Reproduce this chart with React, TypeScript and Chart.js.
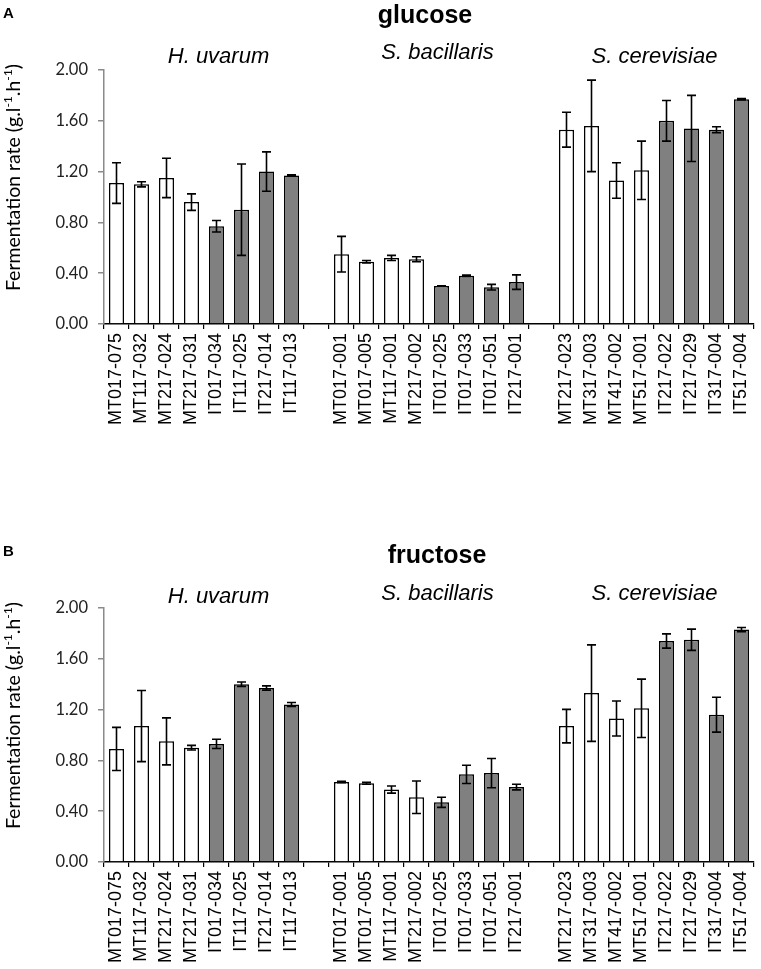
import React, { useEffect, useRef } from "react";
import { Chart, registerables } from "chart.js";

Chart.register(...registerables);

// ---- data ----
const hUvarum = ["MT017-075", "MT117-032", "MT217-024", "MT217-031", "IT017-034", "IT117-025", "IT217-014", "IT117-013"];
const sBacillaris = ["MT017-001", "MT017-005", "MT117-001", "MT217-002", "IT017-025", "IT017-033", "IT017-051", "IT217-001"];
const sCerevisiae = ["MT217-023", "MT317-003", "MT417-002", "MT517-001", "IT217-022", "IT217-029", "IT317-004", "IT517-004"];
const speciesNames = ["H. uvarum", "S. bacillaris", "S. cerevisiae"];
const categories = [...hUvarum, "", ...sBacillaris, " ", ...sCerevisiae];

const glucoseMeans = [1.11, 1.10, 1.15, 0.96, 0.77, 0.90, 1.20, 1.17, null, 0.55, 0.49, 0.52, 0.51, 0.30, 0.38, 0.29, 0.33, null, 1.53, 1.56, 1.13, 1.21, 1.60, 1.54, 1.53, 1.77];
const glucoseErrors = [0.16, 0.02, 0.155, 0.065, 0.045, 0.36, 0.155, 0.005, null, 0.14, 0.01, 0.02, 0.02, 0.0, 0.006, 0.022, 0.057, null, 0.137, 0.36, 0.14, 0.23, 0.16, 0.26, 0.023, 0.006];

const fructoseMeans = [0.89, 1.07, 0.95, 0.90, 0.93, 1.40, 1.37, 1.24, null, 0.63, 0.62, 0.57, 0.51, 0.47, 0.69, 0.70, 0.59, null, 1.07, 1.33, 1.13, 1.21, 1.74, 1.75, 1.16, 1.83];
const fructoseErrors = [0.17, 0.28, 0.185, 0.018, 0.036, 0.017, 0.017, 0.016, null, 0.005, 0.008, 0.028, 0.128, 0.04, 0.072, 0.115, 0.022, null, 0.132, 0.38, 0.138, 0.23, 0.056, 0.084, 0.137, 0.017];

const yTicks = [0, 0.4, 0.8, 1.2, 1.6, 2.0];
const yTitleParts: [string, boolean][] = [["Fermentation rate (g.l", false], ["-1", true], [".h", false], ["-1", true], [")", false]];

const W = 761;
const H = 431;

type PanelProps = {
  letter: string;
  title: string;
  titleX: number;
  titleY: number;
  speciesY: number[];
  means: (number | null)[];
  errors: (number | null)[];
};

function Panel({ letter, title, titleX, titleY, speciesY, means, errors }: PanelProps) {
  const ref = useRef<HTMLCanvasElement>(null);

  useEffect(() => {
    const canvas = ref.current!;
    const errorBars = {
      id: "errorBars",
      afterDatasetsDraw(chart: any) {
        const ctx = chart.ctx;
        const meta = chart.getDatasetMeta(0);
        const y = chart.scales.y;
        ctx.save();
        ctx.strokeStyle = "#000";
        ctx.lineWidth = 1.6;
        meta.data.forEach((el: any, i: number) => {
          const m = means[i];
          const e = errors[i];
          if (m == null || e == null) return;
          const x = el.x;
          const yTop = y.getPixelForValue(m + e);
          const yBot = y.getPixelForValue(m - e);
          const cap = 4.5;
          ctx.beginPath();
          ctx.moveTo(x, yTop);
          ctx.lineTo(x, yBot);
          ctx.moveTo(x - cap, yTop);
          ctx.lineTo(x + cap, yTop);
          ctx.moveTo(x - cap, yBot);
          ctx.lineTo(x + cap, yBot);
          ctx.stroke();
        });
        ctx.restore();
      },
    };

    const annotations = {
      id: "annotations",
      afterDraw(chart: any) {
        const ctx = chart.ctx;
        ctx.save();
        ctx.fillStyle = "#000";
        ctx.textBaseline = "alphabetic";
        // panel letter
        ctx.font = "bold 15px 'Liberation Sans', Arial, sans-serif";
        ctx.textAlign = "left";
        ctx.fillText(letter, 3, 18);
        // title
        ctx.font = "bold 25px 'Liberation Sans', Arial, sans-serif";
        ctx.textAlign = "center";
        ctx.fillText(title, titleX, titleY);
        // species
        ctx.font = "italic 22px 'Liberation Sans', Arial, sans-serif";
        const spX = [218.5, 437.5, 654.5];
        speciesNames.forEach((s, i) => ctx.fillText(s, spX[i], speciesY[i]));
        // y title with superscripts
        const base = 19.5;
        const measure = (size: number) => {
          let w = 0;
          yTitleParts.forEach(([t, sup]) => {
            ctx.font = `${sup ? size * 0.62 : size}px Lato, 'Open Sans', sans-serif`;
            w += ctx.measureText(t).width;
          });
          return w;
        };
        const total = measure(base);
        ctx.translate(20, 177.5);
        ctx.rotate(-Math.PI / 2);
        ctx.textAlign = "left";
        let cx = -total / 2;
        yTitleParts.forEach(([t, sup]) => {
          ctx.font = `${sup ? base * 0.62 : base}px Lato, 'Open Sans', sans-serif`;
          ctx.fillText(t, cx, sup ? -base * 0.42 : 0);
          cx += ctx.measureText(t).width;
        });
        ctx.restore();
      },
    };

    const chart = new Chart(canvas, {
      type: "bar",
      data: {
        labels: categories,
        datasets: [
          {
            data: means as any,
            backgroundColor: categories.map((c) => (c.startsWith("IT") ? "#808080" : "#ffffff")),
            borderColor: "#000",
            borderWidth: 1.5,
            barPercentage: 0.6,
            categoryPercentage: 1.0,
          },
        ],
      },
      options: {
        responsive: false,
        maintainAspectRatio: false,
        animation: false,
        devicePixelRatio: 1,
        layout: { padding: { top: 70, right: 7, left: 0, bottom: 0 } },
        plugins: {
          legend: { display: false },
          tooltip: { enabled: false },
          title: { display: false },
        },
        scales: {
          x: {
            type: "category",
            offset: true,
            grid: {
              display: true,
              offset: true,
              drawOnChartArea: false,
              drawTicks: true,
              tickLength: 5,
              color: "#000",
              lineWidth: 1.2,
            },
            border: { display: true, color: "#000", width: 1.6 },
            ticks: {
              autoSkip: false,
              minRotation: 90,
              maxRotation: 90,
              padding: 4,
              color: "#000",
              font: { family: "'Liberation Sans', Arial, sans-serif", size: 18 },
            },
            afterFit: (s: any) => {
              s.height = H - 324;
              s.paddingLeft = 0;
              s.paddingRight = 0;
            },
          },
          y: {
            type: "linear",
            min: 0,
            max: 2,
            grid: {
              display: true,
              drawOnChartArea: false,
              drawTicks: true,
              tickLength: 6,
              color: "#8a8a8a",
              lineWidth: 1.5,
            },
            border: { display: true, color: "#8a8a8a", width: 1.5 },
            ticks: {
              padding: 10,
              color: "#222",
              font: { family: "Lato, 'Open Sans', sans-serif", size: 16.5 },
              callback: (v: any) => Number(v).toFixed(2),
            },
            afterBuildTicks: (s: any) => {
              s.ticks = yTicks.map((v) => ({ value: v }));
            },
            afterFit: (s: any) => {
              s.width = 104;
              s.paddingTop = 0;
              s.paddingBottom = 0;
            },
          },
        },
      } as any,
      plugins: [errorBars, annotations],
    });
    return () => chart.destroy();
  }, []);

  return <canvas ref={ref} width={W} height={H} style={{ display: "block", width: W, height: H }} />;
}

export default function App() {
  return (
    <div style={{ position: "absolute", left: 0, top: 0, width: W, height: 969, background: "#fff" }}>
      <div style={{ position: "absolute", left: 0, top: 0 }}>
        <Panel letter="A" title="glucose" titleX={425} titleY={23} speciesY={[63, 59, 63]} means={glucoseMeans} errors={glucoseErrors} />
      </div>
      <div style={{ position: "absolute", left: 0, top: 538 }}>
        <Panel letter="B" title="fructose" titleX={437} titleY={25} speciesY={[65, 62, 62]} means={fructoseMeans} errors={fructoseErrors} />
      </div>
    </div>
  );
}
